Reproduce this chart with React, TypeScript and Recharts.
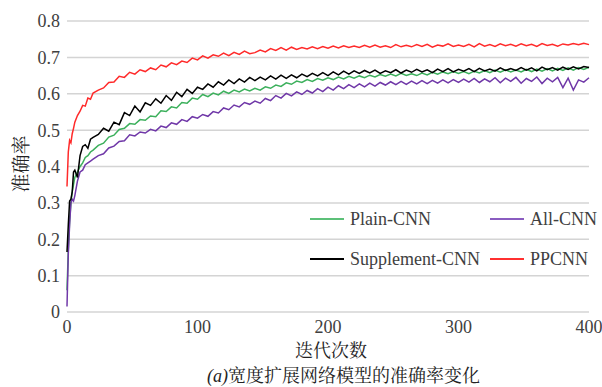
import React from 'react';
import { LineChart, Line, XAxis, YAxis, CartesianGrid } from 'recharts';

// iteration numbers (denser at the very start)
const iters = [
  0, 1, 2, 3, 4, 5, 6, 8, 10, 12, 14, 16, 18, 20,
  24, 28, 32, 36, 40, 44, 48, 52, 56, 60,
  64, 68, 72, 76, 80, 84, 88, 92, 96, 100,
  104, 108, 112, 116, 120, 124, 128, 132, 136, 140,
  144, 148, 152, 156, 160, 164, 168, 172, 176, 180,
  184, 188, 192, 196, 200, 204, 208, 212, 216, 220,
  224, 228, 232, 236, 240, 244, 248, 252, 256, 260,
  264, 268, 272, 276, 280, 284, 288, 292, 296, 300,
  304, 308, 312, 316, 320, 324, 328, 332, 336, 340,
  344, 348, 352, 356, 360, 364, 368, 372, 376, 380,
  384, 388, 392, 396, 400,
];

const plainCnn = [
  0.06, 0.17, 0.25, 0.3, 0.33, 0.35, 0.37, 0.385, 0.4, 0.41, 0.425, 0.43, 0.44, 0.445,
  0.458, 0.464, 0.481, 0.486, 0.502, 0.505, 0.518, 0.516, 0.529, 0.527,
  0.539, 0.537, 0.553, 0.551, 0.564, 0.561, 0.576, 0.574, 0.588, 0.585,
  0.598, 0.592, 0.602, 0.597, 0.607, 0.601, 0.61, 0.605, 0.613, 0.608,
  0.615, 0.61, 0.619, 0.615, 0.624, 0.62, 0.63, 0.626, 0.635, 0.631,
  0.639, 0.634, 0.642, 0.637, 0.644, 0.639, 0.646, 0.641, 0.648, 0.643,
  0.649, 0.644, 0.651, 0.646, 0.653, 0.648, 0.654, 0.649, 0.656, 0.65,
  0.655, 0.65, 0.657, 0.652, 0.659, 0.654, 0.66, 0.655, 0.661, 0.656,
  0.661, 0.655, 0.662, 0.657, 0.664, 0.658, 0.665, 0.659, 0.666, 0.66,
  0.665, 0.66, 0.667, 0.661, 0.668, 0.662, 0.669, 0.663, 0.67, 0.664,
  0.671, 0.665, 0.672, 0.667, 0.673,
];

const allCnn = [
  0.015, 0.16, 0.24, 0.3, 0.31, 0.305, 0.32, 0.36, 0.385, 0.39, 0.405, 0.41, 0.415, 0.42,
  0.43, 0.435, 0.451, 0.456, 0.469, 0.471, 0.487, 0.484, 0.495, 0.492,
  0.502, 0.498, 0.511, 0.507, 0.52, 0.516, 0.529, 0.524, 0.537, 0.533,
  0.543, 0.538, 0.551, 0.547, 0.561, 0.556, 0.569, 0.564, 0.576, 0.571,
  0.58, 0.574, 0.587, 0.581, 0.595, 0.588, 0.601, 0.594, 0.605, 0.598,
  0.609, 0.602, 0.614, 0.606, 0.618, 0.61, 0.622, 0.614, 0.625, 0.617,
  0.627, 0.619, 0.629, 0.621, 0.631, 0.624, 0.633, 0.625, 0.634, 0.626,
  0.635, 0.627, 0.636, 0.628, 0.637, 0.629, 0.638, 0.63, 0.639, 0.631,
  0.64, 0.632, 0.642, 0.631, 0.641, 0.633, 0.644, 0.63, 0.643, 0.634,
  0.645, 0.629, 0.642, 0.634, 0.646, 0.628, 0.643, 0.633, 0.645, 0.617,
  0.643, 0.61, 0.638, 0.632, 0.644,
];

const supplementCnn = [
  0.165, 0.24, 0.305, 0.31, 0.33, 0.385, 0.39, 0.37, 0.43, 0.455, 0.46, 0.45, 0.475, 0.48,
  0.488, 0.505, 0.497, 0.522, 0.515, 0.548, 0.54, 0.566, 0.55, 0.575,
  0.568, 0.586, 0.574, 0.595, 0.582, 0.604, 0.592, 0.612, 0.601, 0.618,
  0.612, 0.627, 0.618, 0.633, 0.624, 0.638, 0.628, 0.641, 0.632, 0.645,
  0.636, 0.646, 0.638, 0.649, 0.64, 0.651, 0.642, 0.652, 0.644, 0.654,
  0.647, 0.656, 0.649, 0.658, 0.65, 0.66, 0.652, 0.662, 0.654, 0.663,
  0.656, 0.664, 0.657, 0.665, 0.656, 0.663, 0.658, 0.666, 0.657, 0.665,
  0.659, 0.667, 0.66, 0.666, 0.658, 0.668, 0.661, 0.669, 0.66, 0.667,
  0.662, 0.669, 0.661, 0.67, 0.663, 0.668, 0.662, 0.671, 0.664, 0.669,
  0.664, 0.672, 0.665, 0.671, 0.663, 0.673, 0.666, 0.672, 0.665, 0.673,
  0.667, 0.674, 0.668, 0.675, 0.672,
];

const ppcnn = [
  0.345, 0.44, 0.472, 0.465, 0.49, 0.505, 0.522, 0.54, 0.552, 0.568, 0.566, 0.588, 0.585, 0.602,
  0.61, 0.616, 0.631, 0.632, 0.648, 0.645, 0.659, 0.654, 0.666, 0.661,
  0.671, 0.666, 0.679, 0.674, 0.685, 0.68, 0.69, 0.686, 0.698, 0.693,
  0.704, 0.698, 0.707, 0.703, 0.712, 0.705, 0.714, 0.708, 0.717, 0.71,
  0.713, 0.72, 0.715, 0.724, 0.719, 0.727, 0.72, 0.728, 0.722, 0.727,
  0.723, 0.729, 0.724, 0.73, 0.725, 0.731, 0.726, 0.732, 0.727, 0.731,
  0.727, 0.733, 0.728, 0.734, 0.728, 0.732, 0.727, 0.735, 0.729, 0.733,
  0.729, 0.735, 0.73, 0.736, 0.728, 0.734, 0.731, 0.737, 0.73, 0.734,
  0.73, 0.736, 0.729, 0.738, 0.731, 0.735, 0.73, 0.737, 0.732, 0.736,
  0.731, 0.737, 0.732, 0.736, 0.73, 0.738, 0.733, 0.736, 0.731, 0.737,
  0.734, 0.738, 0.735, 0.739, 0.735,
];

const xTicks = [0, 100, 200, 300, 400];
const yTicks = [0, 0.1, 0.2, 0.3, 0.4, 0.5, 0.6, 0.7, 0.8];

const series = [
  { key: 'plain', name: 'Plain-CNN', color: '#3cb05c' },
  { key: 'all', name: 'All-CNN', color: '#7038a8' },
  { key: 'supp', name: 'Supplement-CNN', color: '#000000' },
  { key: 'pp', name: 'PPCNN', color: '#ff2a2a' },
];

const data = iters.map((x, i) => ({
  x,
  plain: plainCnn[i],
  all: allCnn[i],
  supp: supplementCnn[i],
  pp: ppcnn[i],
}));

const font = "'Liberation Serif', 'Times New Roman', serif";
const cjkFont = "'Liberation Serif', 'Noto Serif CJK SC', 'Noto Sans CJK SC', serif";

function LegendItem({ name, color, left, top }: { name: string; color: string; left: number; top: number }) {
  return (
    <div style={{ position: 'absolute', left, top, display: 'flex', alignItems: 'center', whiteSpace: 'nowrap' }}>
      <div style={{ width: 34, height: 0, borderTop: `2px solid ${color}`, marginRight: 6 }} />
      <span style={{ fontFamily: font, fontSize: 18, color: '#404040', lineHeight: '20px' }}>{name}</span>
    </div>
  );
}

const labelStyle: React.CSSProperties = {
  position: 'absolute',
  fontFamily: cjkFont,
  fontSize: 18,
  lineHeight: '20px',
  color: '#222',
  whiteSpace: 'nowrap',
};

export default function App() {
  return (
    <div style={{ position: 'absolute', left: 0, top: 0, width: 602, height: 387, background: '#fff', overflow: 'hidden' }}>
      <LineChart width={602} height={387} data={data} margin={{ top: 21, right: 13, left: 0, bottom: 0 }}>
        <CartesianGrid vertical={false} stroke="#d4d4d4" strokeWidth={1.5} />
        <XAxis
          dataKey="x"
          type="number"
          domain={[0, 400]}
          ticks={xTicks}
          interval={0}
          axisLine={false}
          tickLine={false}
          height={75}
          tick={{ fontFamily: font, fontSize: 18, fill: '#404040' }}
        />
        <YAxis
          type="number"
          domain={[0, 0.8]}
          ticks={yTicks}
          interval={0}
          width={67}
          axisLine={false}
          tickLine={false}
          tickMargin={1}
          tickFormatter={(v: number) => (v === 0 ? '0' : v.toFixed(1))}
          tick={{ fontFamily: font, fontSize: 18, fill: '#404040' }}
        />
        {series.map((s) => (
          <Line
            key={s.key}
            dataKey={s.key}
            name={s.name}
            type="linear"
            stroke={s.color}
            strokeWidth={1.5}
            dot={false}
            isAnimationActive={false}
          />
        ))}
      </LineChart>

      <LegendItem name="Plain-CNN" color="#5cc078" left={310} top={209} />
      <LegendItem name="All-CNN" color="#8a5cc0" left={490} top={209} />
      <LegendItem name="Supplement-CNN" color="#000000" left={310} top={249} />
      <LegendItem name="PPCNN" color="#ff3030" left={490} top={249} />

      <div style={{ ...labelStyle, left: 22, top: 164, fontSize: 19, transform: 'translate(-50%, -50%) rotate(-90deg)' }}>
        准确率
      </div>
      <div style={{ ...labelStyle, left: 331, top: 341 }}>
        <span style={{ display: 'inline-block', transform: 'translateX(-50%)' }}>迭代次数</span>
      </div>
      <div style={{ ...labelStyle, left: 207, top: 366 }}>
        <i>(a)</i>宽度扩展网络模型的准确率变化
      </div>
    </div>
  );
}
